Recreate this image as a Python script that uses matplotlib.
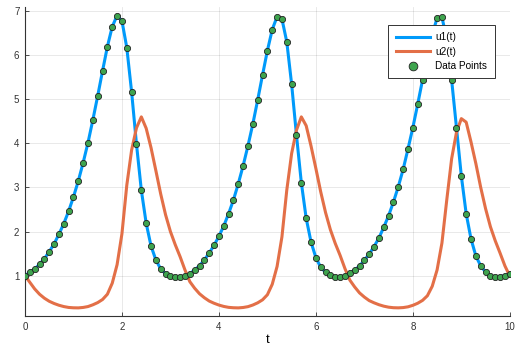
import numpy as np
import matplotlib
matplotlib.use("Agg")
import matplotlib.pyplot as plt

# time grid of the samples (every 0.1 from 0 to 10)
t = np.round(np.arange(0, 101) * 0.1, 1)

# u1(t) (also where the data points sit)
u1 = [1.0, 1.077, 1.152, 1.258, 1.385, 1.544, 1.719, 1.939, 2.179, 2.46,
      2.785, 3.147, 3.562, 4.016, 4.531, 5.075, 5.642, 6.193, 6.646, 6.896,
      6.776, 6.17, 5.159, 3.98, 2.937, 2.188, 1.673, 1.356, 1.152, 1.045,
      0.986, 0.964, 0.977, 0.99, 1.045, 1.129, 1.227, 1.356, 1.515, 1.689,
      1.893, 2.127, 2.406, 2.717, 3.086, 3.494, 3.948, 4.44, 4.984, 5.551,
      6.102, 6.578, 6.873, 6.821, 6.299, 5.34, 4.184, 3.109, 2.302, 1.764,
      1.408, 1.19, 1.077, 1.009, 0.977, 0.97, 1.0, 1.061, 1.129, 1.22,
      1.349, 1.492, 1.658, 1.855, 2.097, 2.36, 2.671, 3.018, 3.41, 3.873,
      4.356, 4.887, 5.437, 5.99, 6.47, 6.837, 6.86, 6.36, 5.437, 4.356,
      3.26, 2.406, 1.832, 1.447, 1.22, 1.084, 1.0, 0.97, 0.977, 1.0,
      1.045]

# u2(t)
u2 = [1.0, 0.85, 0.70, 0.58, 0.49, 0.42, 0.37, 0.33, 0.30, 0.28,
      0.272, 0.27, 0.28, 0.30, 0.34, 0.39, 0.46, 0.58, 0.83, 1.25,
      1.95, 3.05, 3.85, 4.35, 4.60, 4.34, 3.90, 3.38, 2.85, 2.38,
      2.00, 1.70, 1.43, 1.13, 0.865, 0.715, 0.59, 0.50, 0.425, 0.375,
      0.334, 0.303, 0.282, 0.273, 0.27, 0.279, 0.298, 0.335, 0.385, 0.453,
      0.568, 0.805, 1.21, 1.88, 2.94, 3.77, 4.30, 4.60, 4.40, 3.94,
      3.43, 2.90, 2.43, 2.04, 1.73, 1.46, 1.16, 0.90, 0.745, 0.61,
      0.515, 0.435, 0.385, 0.342, 0.309, 0.286, 0.274, 0.271, 0.277, 0.294,
      0.328, 0.375, 0.44, 0.545, 0.76, 1.13, 1.74, 2.72, 3.65, 4.25,
      4.56, 4.48, 4.03, 3.54, 3.0, 2.52, 2.11, 1.79, 1.51, 1.22,
      0.99]

x_ticks = [0, 2, 4, 6, 8, 10]
y_ticks = [1, 2, 3, 4, 5, 6, 7]

plt.rcParams['font.family'] = ['Liberation Sans', 'DejaVu Sans']

fig = plt.figure(figsize=(5.16, 3.46), dpi=100)
ax = fig.add_axes([0.0484, 0.0867, 0.9396, 0.8943])

ax.plot(t, u1, color='#009AFA', linewidth=2.2, label='u1(t)', zorder=3)
ax.plot(t, u2, color='#E36F47', linewidth=2.2, label='u2(t)', zorder=3)
ax.scatter(t, u1, s=20, color='#3EA44E', edgecolors='#222222',
           linewidths=0.6, label='Data Points', zorder=4)

ax.set_xlim(0, 10)
ax.set_ylim(0.086, 7.1)
ax.set_xticks(x_ticks)
ax.set_yticks(y_ticks)
ax.grid(True, color='#000000', alpha=0.1, linewidth=0.6)
ax.set_axisbelow(True)

for s in ['top', 'right']:
    ax.spines[s].set_visible(False)
for s in ['left', 'bottom']:
    ax.spines[s].set_linewidth(0.8)
    ax.spines[s].set_color('#333333')
ax.tick_params(direction='in', length=3, width=0.6, labelsize=7,
               colors='#333333', pad=4)
ax.set_xlabel('t', fontsize=9.5, labelpad=2)

leg = ax.legend(loc='upper right', bbox_to_anchor=(0.969, 0.9405),
                fontsize=7.2, frameon=True, fancybox=False, framealpha=1,
                edgecolor='#333333', handlelength=3.4, handletextpad=0.55,
                labelspacing=0.42, borderpad=0.75, borderaxespad=0,
                markerscale=1.4)
leg.get_frame().set_linewidth(0.7)
leg.set_zorder(10)

fig.savefig('out.png', dpi=100)
